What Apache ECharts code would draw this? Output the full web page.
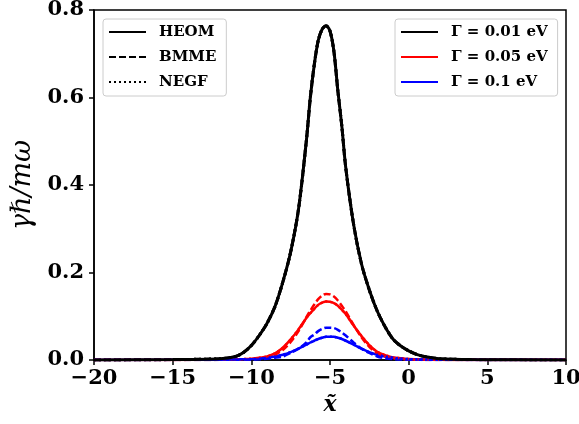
<!DOCTYPE html>
<html>
<head>
<meta charset="utf-8">
<script src="https://cdn.jsdelivr.net/npm/echarts@6/dist/echarts.min.js"></script>
<style>
html,body{margin:0;padding:0;background:#fff;}
#chart{width:579px;height:424px;}
</style>
</head>
<body>
<div id="chart"></div>
<script>
// x grid (x tilde)
const xs = [-20, -15, -12, -11, -10.5, -10, -9.5, -9, -8.5, -8, -7.5, -7, -6.5, -6.25, -6, -5.75, -5.5, -5.25, -5, -4.75, -4.5, -4.25, -4, -3.5, -3, -2.5, -2, -1.5, -1, -0.5, 0, 0.5, 1, 2, 4, 10];

// Gamma = 0.01 eV (HEOM, BMME, NEGF coincide)
const heom001 = [0, 0.001, 0.003, 0.008, 0.017, 0.033, 0.056, 0.084, 0.122, 0.178, 0.247, 0.345, 0.502, 0.600, 0.675, 0.730, 0.756, 0.764, 0.752, 0.705, 0.615, 0.535, 0.44, 0.31, 0.22, 0.16, 0.112, 0.076, 0.048, 0.032, 0.021, 0.013, 0.008, 0.003, 0.001, 0];
const bmme001 = [0, 0.001, 0.003, 0.008, 0.017, 0.033, 0.056, 0.084, 0.122, 0.178, 0.247, 0.345, 0.502, 0.600, 0.675, 0.730, 0.756, 0.764, 0.752, 0.705, 0.615, 0.535, 0.44, 0.31, 0.22, 0.16, 0.112, 0.076, 0.048, 0.032, 0.021, 0.013, 0.008, 0.003, 0.001, 0];
const negf001 = [0, 0.001, 0.003, 0.008, 0.017, 0.033, 0.056, 0.084, 0.122, 0.178, 0.247, 0.345, 0.502, 0.600, 0.675, 0.730, 0.756, 0.764, 0.752, 0.705, 0.615, 0.535, 0.44, 0.31, 0.22, 0.16, 0.112, 0.076, 0.048, 0.032, 0.021, 0.013, 0.008, 0.003, 0.001, 0];

// Gamma = 0.05 eV
const heom005 = [0, 0.0002, 0.0006, 0.0012, 0.002, 0.003, 0.005, 0.008, 0.015, 0.028, 0.047, 0.070, 0.096, 0.107, 0.117, 0.126, 0.131, 0.134, 0.133, 0.130, 0.124, 0.115, 0.105, 0.079, 0.055, 0.034, 0.019, 0.011, 0.006, 0.004, 0.0022, 0.0015, 0.001, 0.0004, 0.0001, 0];
const bmme005 = [0, 0.0001, 0.0003, 0.0007, 0.0012, 0.002, 0.0035, 0.006, 0.012, 0.023, 0.041, 0.066, 0.098, 0.113, 0.127, 0.139, 0.147, 0.151, 0.150, 0.145, 0.136, 0.124, 0.111, 0.080, 0.052, 0.030, 0.016, 0.008, 0.004, 0.002, 0.001, 0.0007, 0.0004, 0.0001, 0, 0];
const negf005 = [0, 0.0002, 0.0006, 0.0012, 0.002, 0.003, 0.005, 0.008, 0.015, 0.028, 0.047, 0.070, 0.096, 0.107, 0.117, 0.126, 0.131, 0.134, 0.133, 0.130, 0.124, 0.115, 0.105, 0.079, 0.055, 0.034, 0.019, 0.011, 0.006, 0.004, 0.0022, 0.0015, 0.001, 0.0004, 0.0001, 0];

// Gamma = 0.1 eV
const heom01 = [0, 0.0003, 0.0008, 0.0013, 0.0016, 0.002, 0.003, 0.005, 0.008, 0.012, 0.018, 0.026, 0.035, 0.040, 0.044, 0.048, 0.051, 0.053, 0.053, 0.053, 0.051, 0.048, 0.044, 0.035, 0.026, 0.018, 0.012, 0.008, 0.005, 0.003, 0.002, 0.0015, 0.001, 0.0005, 0.0002, 0];
const bmme01 = [0, 0.0001, 0.0003, 0.0006, 0.0008, 0.001, 0.0017, 0.003, 0.005, 0.008, 0.016, 0.026, 0.040, 0.052, 0.058, 0.066, 0.071, 0.074, 0.074, 0.073, 0.069, 0.063, 0.056, 0.040, 0.026, 0.016, 0.008, 0.004, 0.002, 0.001, 0.0006, 0.0004, 0.0002, 0.0001, 0, 0];
const negf01 = [0, 0.0003, 0.0008, 0.0013, 0.0016, 0.002, 0.003, 0.005, 0.008, 0.012, 0.018, 0.026, 0.035, 0.040, 0.044, 0.048, 0.051, 0.053, 0.053, 0.053, 0.051, 0.048, 0.044, 0.035, 0.026, 0.018, 0.012, 0.008, 0.005, 0.003, 0.002, 0.0015, 0.001, 0.0005, 0.0002, 0];

const methodNames = ['HEOM', 'BMME', 'NEGF'];
const gammaNames = ['Γ = 0.01 eV', 'Γ = 0.05 eV', 'Γ = 0.1 eV'];
const xTicks = [-20, -15, -10, -5, 0, 5, 10];
const yTicks = [0.0, 0.2, 0.4, 0.6, 0.8];

const colors = ['#000000', '#ff0000', '#0000ff'];
const dashTypes = ['solid', [7, 3], [2, 3]];

const table = [
  [heom001, bmme001, negf001],
  [heom005, bmme005, negf005],
  [heom01, bmme01, negf01]
];

const pair = (ys) => xs.map((x, i) => [x, ys[i]]);

const series = [];
table.forEach((group, gi) => {
  group.forEach((ys, mi) => {
    series.push({
      type: 'line',
      name: 'g' + gi + 'm' + mi,
      data: pair(ys),
      symbol: 'none',
      showSymbol: false,
      smooth: 0.3,
      lineStyle: { color: colors[gi], width: gi === 0 ? 3 : 2.5, type: dashTypes[mi] },
      z: gi === 0 ? (mi === 0 ? 10 : 3) : 4 + mi,
      silent: true
    });
  });
});
// legend-only series
methodNames.forEach((n, mi) => {
  series.push({
    type: 'line', name: n, data: [], symbol: 'none', showSymbol: false,
    itemStyle: { color: '#000' },
    lineStyle: { color: '#000', width: 2, type: dashTypes[mi] }
  });
});
gammaNames.forEach((n, gi) => {
  series.push({
    type: 'line', name: n, data: [], symbol: 'none', showSymbol: false,
    itemStyle: { color: colors[gi] },
    lineStyle: { color: colors[gi], width: 2, type: 'solid' }
  });
});

const font = 'DejaVu Serif';
const legendCommon = {
  orient: 'vertical',
  backgroundColor: '#fff',
  borderColor: '#cccccc',
  borderWidth: 1,
  borderRadius: 3,
  itemWidth: 37,
  itemHeight: 14,
  itemGap: 7,
  padding: [4, 10, 5, 5],
  selectedMode: false,
  itemStyle: { opacity: 0 },
  textStyle: { fontFamily: font, fontWeight: 'bold', fontSize: 15, color: '#000', lineHeight: 18, padding: [0, 0, 0, 8] }
};

const chart = echarts.init(document.getElementById('chart'), null, { renderer: 'canvas' });
chart.setOption({
  animation: false,
  backgroundColor: '#fff',
  grid: { left: 94, right: 13, top: 10, bottom: 64, show: true, borderColor: '#000', borderWidth: 1.5, backgroundColor: 'transparent', outerBoundsMode: 'none', containLabel: false },
  legend: [
    Object.assign({}, legendCommon, { data: methodNames, left: 103, top: 19 }),
    Object.assign({}, legendCommon, { data: gammaNames, left: 395, top: 19 })
  ],
  xAxis: {
    type: 'value', min: xTicks[0], max: xTicks[xTicks.length - 1], interval: 5,
    name: 'x\u0303', nameLocation: 'middle', nameGap: 32,
    nameTextStyle: { fontFamily: font, fontStyle: 'italic', fontWeight: 'bold', fontSize: 22, color: '#000' },
    axisLine: { show: true, onZero: false, lineStyle: { color: '#000', width: 1.5 } },
    axisTick: { show: true, inside: false, length: 5, lineStyle: { color: '#000', width: 1.5 } },
    splitLine: { show: false },
    axisLabel: { margin: 8, fontFamily: font, fontWeight: 'bold', fontSize: 21, color: '#000',
      formatter: v => (v < 0 ? '\u2212' + Math.abs(v) : String(v)) }
  },
  yAxis: {
    type: 'value', min: yTicks[0], max: yTicks[yTicks.length - 1], interval: 0.2,
    name: 'γℏ/mω', nameLocation: 'middle', nameGap: 54, nameRotate: 90,
    nameTextStyle: { fontFamily: font, fontStyle: 'italic', fontSize: 27, color: '#000' },
    axisLine: { show: true, onZero: false, lineStyle: { color: '#000', width: 1.5 } },
    axisTick: { show: true, inside: false, length: 5, lineStyle: { color: '#000', width: 1.5 } },
    splitLine: { show: false },
    axisLabel: { margin: 10, fontFamily: font, fontWeight: 'bold', fontSize: 21, color: '#000',
      formatter: v => v.toFixed(1) }
  },
  series: series
});
</script>
</body>
</html>
